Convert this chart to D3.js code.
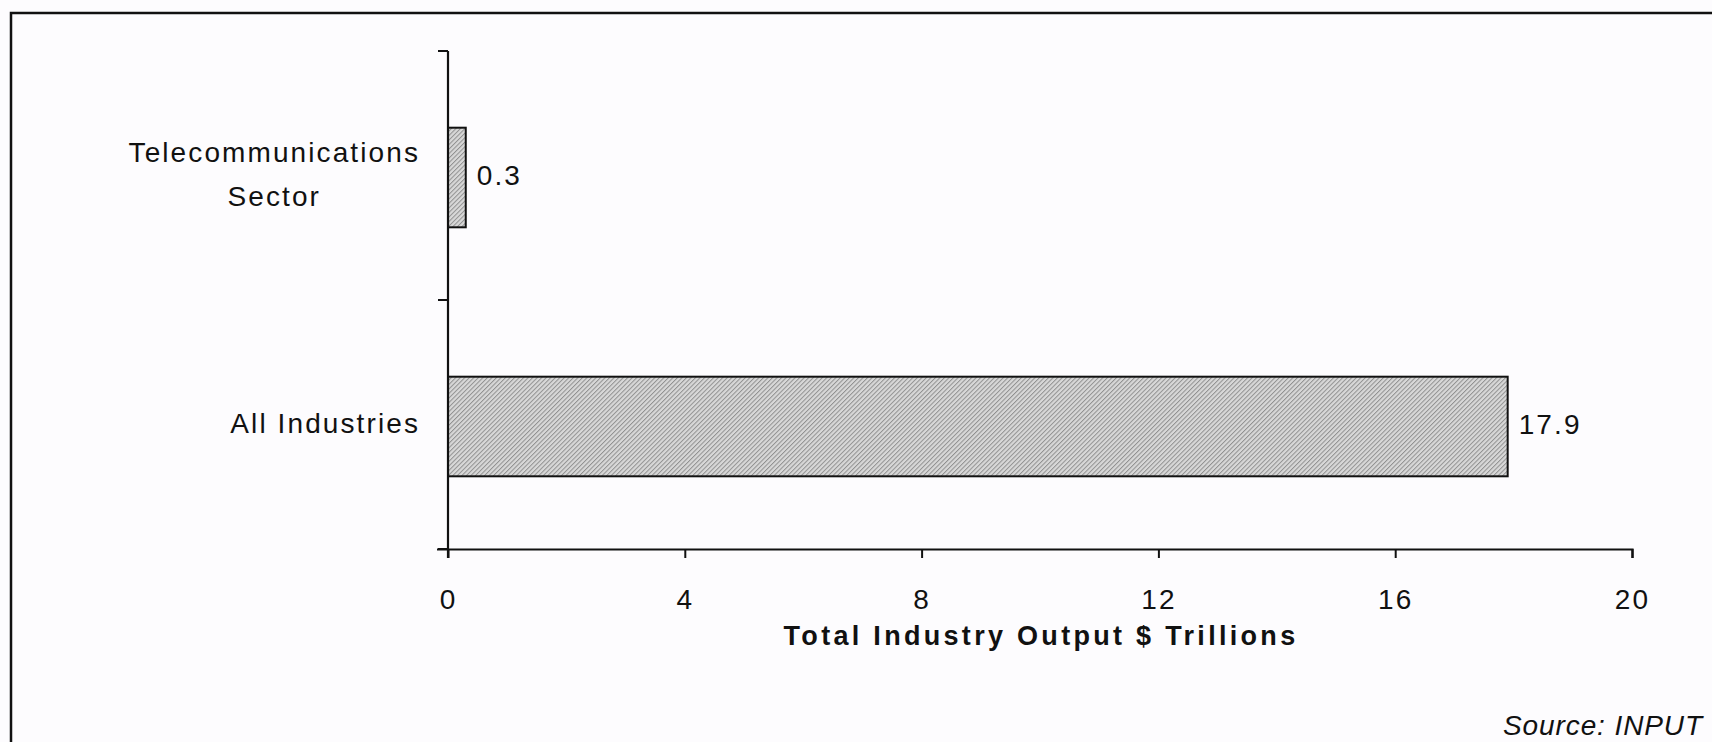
<!DOCTYPE html>
<html><head><meta charset="utf-8">
<script src="https://cdn.jsdelivr.net/npm/d3@7"></script>
<style>
html,body{margin:0;padding:0;background:#fdfcfe;}
svg{display:block;}
text{font-family:"Liberation Sans",Arial,sans-serif;fill:#111;}
</style></head><body>
<svg id="c" width="1712" height="742"></svg>
<script>
const categories = [["Telecommunications","Sector"],["All Industries"]];
const values = [0.3, 17.9];
const valueLabels = ["0.3","17.9"];
const xTicks = [0,4,8,12,16,20];
const xTitle = "Total Industry Output $ Trillions";
const sourceText = "Source: INPUT";

const svg = d3.select("#c");
svg.append("rect").attr("width",1712).attr("height",742).attr("fill","#fdfcfe");

const defs = svg.append("defs");
const pat = defs.append("pattern").attr("id","hatch").attr("patternUnits","userSpaceOnUse")
  .attr("width",3.2).attr("height",3.2).attr("patternTransform","rotate(45)");
pat.append("rect").attr("width",3.2).attr("height",3.2).attr("fill","#d8d8d8");
pat.append("line").attr("x1",0.5).attr("y1",0).attr("x2",0.5).attr("y2",3.2).attr("stroke","#909090").attr("stroke-width",1.0);

// frame
svg.append("path").attr("d","M11,742 L11,13 L1712,13").attr("fill","none").attr("stroke","#111").attr("stroke-width",2.5);

const x = d3.scaleLinear().domain([0,20]).range([448,1632]);
const keys = categories.map(c=>c.join(" "));
const y = d3.scaleBand().domain(keys).range([51,549]).paddingInner(0.6).paddingOuter(0.3);

const FS = 28, LS = 2.1;

// bars
svg.selectAll("rect.bar").data(values).join("rect").attr("class","bar")
  .attr("x",x(0)).attr("y",(d,i)=>y(keys[i])+2)
  .attr("width",d=>x(d)-x(0)).attr("height",y.bandwidth())
  .attr("fill","url(#hatch)").attr("stroke","#111").attr("stroke-width",2);

// axes
const xAxis = d3.axisBottom(x).tickValues(xTicks).tickSize(9).tickPadding(31).tickFormat(d3.format("d"));
const gx = svg.append("g").attr("transform","translate(0,549)").call(xAxis);
gx.select(".domain").attr("d","M437,0.5H1632.5V9").attr("stroke","#111").attr("stroke-width",2.2);
gx.selectAll(".tick line").attr("stroke","#111").attr("stroke-width",2);
gx.selectAll(".tick text").style("font-size",FS+"px").style("letter-spacing",LS+"px").attr("fill","#111")
  .attr("font-family","Liberation Sans, Arial, sans-serif");

// y axis line and ticks at band boundaries
const yb = [51, 51 + y.step(), 549];
svg.append("line").attr("x1",448).attr("x2",448).attr("y1",51).attr("y2",558).attr("stroke","#111").attr("stroke-width",2.2);
svg.selectAll("line.yt").data(yb).join("line").attr("class","yt")
  .attr("x1",438).attr("x2",448).attr("y1",d=>d).attr("y2",d=>d).attr("stroke","#111").attr("stroke-width",2);

// category labels
categories.forEach((lines,i)=>{
  const cy = y(keys[i]) + y.bandwidth()/2;
  const g = svg.append("g");
  const lh = 44;
  const t = lines.map((l,j)=>g.append("text").text(l)
    .attr("y", cy + (j - (lines.length-1)/2)*lh + 8)
    .style("font-size",FS+"px").style("letter-spacing",LS+"px"));
  const widths = t.map(s=>s.node().getComputedTextLength());
  const W = d3.max(widths);
  const right = 420;
  t.forEach((s,j)=>s.attr("x", right - W/2).attr("text-anchor","middle"));
});

// value labels
svg.selectAll("text.val").data(values).join("text").attr("class","val")
  .attr("x",d=>x(d)+11).attr("y",(d,i)=>y(keys[i])+y.bandwidth()/2+9)
  .text((d,i)=>valueLabels[i]).style("font-size",FS+"px").style("letter-spacing",LS+"px");

// x title
svg.append("text").attr("x",1041).attr("y",645).attr("text-anchor","middle")
  .text(xTitle).style("font-size","27px").style("font-weight","bold").style("letter-spacing","3.3px");

// source
svg.append("text").attr("x",1503).attr("y",735).text(sourceText)
  .style("font-size",FS+"px").style("font-style","italic").style("letter-spacing","0.9px");
</script></body></html>
